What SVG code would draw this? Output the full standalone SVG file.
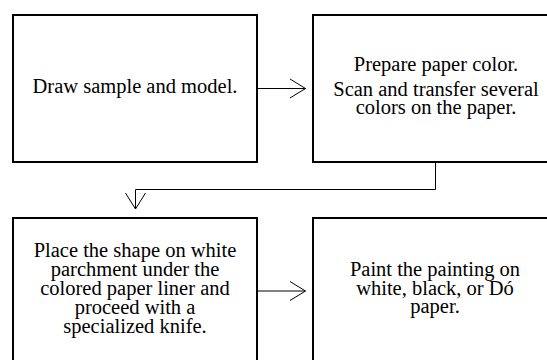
<svg xmlns="http://www.w3.org/2000/svg" width="547" height="360" viewBox="0 0 547 360">
<style>
.box{fill:#fff;stroke:#000;stroke-width:2}
text{font-family:'Liberation Serif',Tinos,'DejaVu Serif',serif;font-size:20.5px;fill:#000;text-anchor:middle}
.c{fill:none;stroke:#000;stroke-width:1}
</style>
<rect width="547" height="360" fill="#fff"/>
<g id="n1"><rect class="box" x="13" y="15" width="244" height="147"/><text x="135" y="93">Draw sample and model.</text></g>
<g id="n2"><rect class="box" x="313" y="15" width="246" height="147"/><text x="436" y="71">Prepare paper color.</text><text x="436" y="96">Scan and transfer several</text><text x="436" y="114">colors on the paper.</text></g>
<g id="n3"><rect class="box" x="13" y="218" width="244" height="160"/><text x="135" y="257">Place the shape on white</text><text x="135" y="276">parchment under the</text><text x="135" y="295">colored paper liner and</text><text x="135" y="314">proceed with a</text><text x="135" y="333">specialized knife.</text></g>
<g id="n4"><rect class="box" x="313" y="218" width="246" height="160"/><text x="435" y="276">Paint the painting on</text><text x="435" y="294.5">white, black, or Dó</text><text x="435" y="313">paper.</text></g>
<g id="connectors">
<path class="c" d="M257 88.5H305.5M290 79L305.5 88.5L290 98"/>
<path class="c" d="M435.5 162V189.5H135.5V209M125.5 193L135.5 209L145.5 193"/>
<path class="c" d="M257 291H305.5M290 281.5L305.5 291L290 300.5"/>
</g>
</svg>
